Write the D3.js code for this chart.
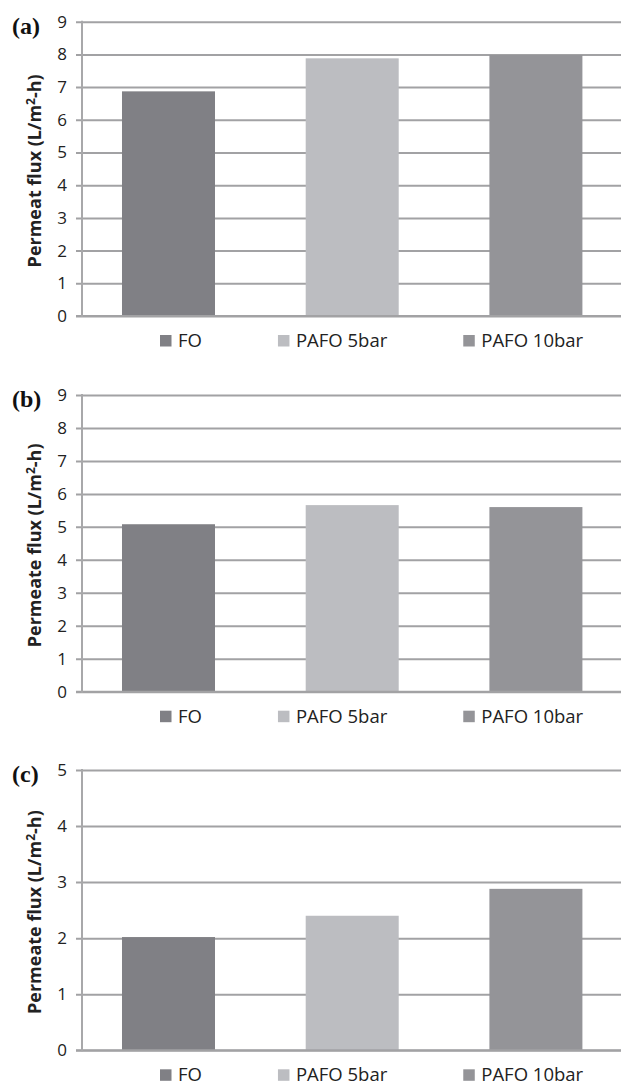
<!DOCTYPE html>
<html>
<head>
<meta charset="utf-8">
<script src="https://cdn.jsdelivr.net/npm/d3@7"></script>
<style>
  html, body { margin: 0; padding: 0; background: #fff; }
  svg { display: block; }
</style>
</head>
<body>
<svg id="chart" width="621" height="1085"></svg>
<script>
// ---- data ----
const series = ["FO", "PAFO 5bar", "PAFO 10bar"];
const colors = ["#808085", "#bcbdc1", "#949498"];
const panelLabels = ["(a)", "(b)", "(c)"];
const axisTitles = ["Permeat flux (L/m", "Permeate flux (L/m", "Permeate flux (L/m"];
const valuesA = [6.87, 7.88, 7.98];
const valuesB = [5.08, 5.66, 5.60];
const valuesC = [2.02, 2.40, 2.88];
const yMaxes = [9, 9, 5];
const ticksAB = [0, 1, 2, 3, 4, 5, 6, 7, 8, 9];
const ticksC = [0, 1, 2, 3, 4, 5];

// ---- layout ----
const svg = d3.select("#chart");
const W = 621;
const axisX = 82, plotRight = 622.4;
const panels = [
  { top: 21.7, bottom: 316, values: valuesA, ticks: ticksAB },
  { top: 395, bottom: 691.7, values: valuesB, ticks: ticksAB },
  { top: 770, bottom: 1050.3, values: valuesC, ticks: ticksC }
];

const x = d3.scaleBand()
  .domain(series)
  .range([axisX, plotRight])
  .paddingInner(0.4937)
  .paddingOuter(0.2177);

const sans = "'Open Sans', 'Noto Sans', sans-serif";

panels.forEach((p, i) => {
  const g = svg.append("g");
  const y = d3.scaleLinear().domain([0, yMaxes[i]]).range([p.bottom, p.top]);

  // gridlines + ticks + labels
  const axis = d3.axisLeft(y)
    .tickValues(p.ticks)
    .tickFormat(d3.format("d"))
    .tickSizeInner(-(W - 76))
    .tickSizeOuter(0)
    .tickPadding(9);
  const ag = g.append("g").attr("transform", "translate(76,0)").call(axis);
  ag.select(".domain").remove();
  ag.selectAll(".tick line").attr("stroke", "#a2a2a4").attr("stroke-width", 2);
  ag.selectAll(".tick text")
    .attr("font-family", sans)
    .attr("font-size", 17)
    .attr("fill", "#222");

  // bars
  g.selectAll("rect.bar")
    .data(p.values)
    .join("rect")
    .attr("class", "bar")
    .attr("x", (d, j) => x(series[j]))
    .attr("width", x.bandwidth())
    .attr("y", d => y(d))
    .attr("height", d => y(0) - y(d))
    .attr("fill", (d, j) => colors[j]);

  // bottom axis line redraw over bars
  g.append("line")
    .attr("x1", 76).attr("x2", W)
    .attr("y1", y(0)).attr("y2", y(0))
    .attr("stroke", "#a2a2a4").attr("stroke-width", 2);

  // vertical axis line
  g.append("line")
    .attr("x1", axisX).attr("x2", axisX)
    .attr("y1", y(yMaxes[i]) - 1).attr("y2", y(0) + 1)
    .attr("stroke", "#a8a8aa").attr("stroke-width", 2);

  // panel label
  g.append("text")
    .attr("x", 12).attr("y", p.top + 12)
    .attr("font-family", "'Liberation Serif', 'Times New Roman', serif")
    .attr("font-weight", "bold")
    .attr("font-size", 24)
    .attr("fill", "#111")
    .text(panelLabels[i]);

  // y axis title
  const cy = (p.top + p.bottom) / 2 + 2;
  const t = g.append("text")
    .attr("transform", `translate(40.5,${cy}) rotate(-90)`)
    .attr("text-anchor", "middle")
    .attr("font-family", sans)
    .attr("font-weight", "bold")
    .attr("font-size", 18)
    .attr("fill", "#222");
  t.append("tspan").text(axisTitles[i]);
  t.append("tspan").attr("font-size", 12).attr("dy", -6).text("2");
  t.append("tspan").attr("dy", 6).text("-h)");

  // legend
  const ly = p.bottom + 24.5;
  let lx = 160;
  series.forEach((s, j) => {
    g.append("rect")
      .attr("x", lx).attr("y", ly - 5.5)
      .attr("width", 11.5).attr("height", 11.5)
      .attr("fill", colors[j]);
    const lt = g.append("text")
      .attr("x", lx + 18).attr("y", ly + 6.5)
      .attr("font-family", sans)
      .attr("font-size", 18.5)
      .attr("fill", "#222")
      .text(s);
    const w = lt.node().getComputedTextLength();
    lx = lx + 18 + w + 76;
  });
});
</script>
</body>
</html>
